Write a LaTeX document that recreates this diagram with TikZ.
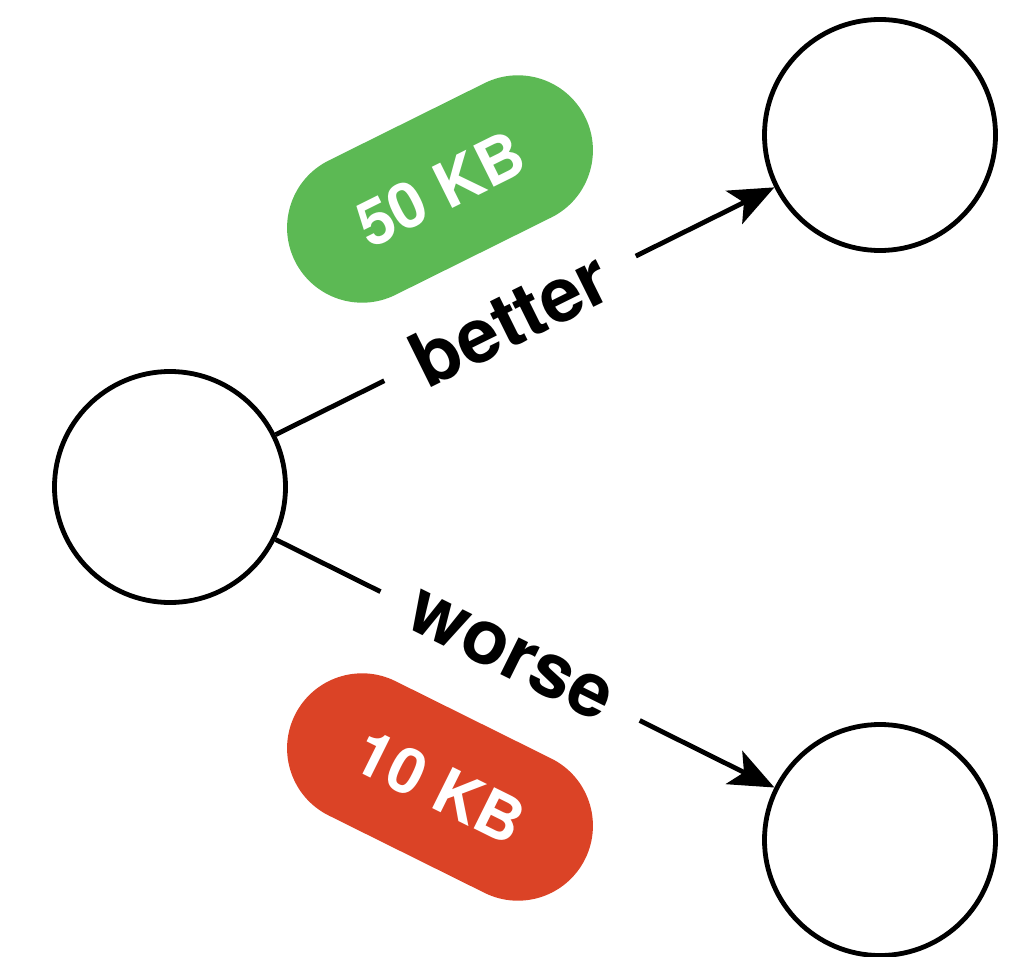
\documentclass[tikz,border=0pt]{standalone}
\usepackage{fontspec}
\setmainfont{TeX Gyre Heros}
\usetikzlibrary{arrows.meta}
\definecolor{goodgreen}{HTML}{5CB954}
\definecolor{badred}{HTML}{DB4326}
\begin{document}
\begin{tikzpicture}[x=1pt,y=1pt,
  state/.style={circle,draw,line width=4.8pt,minimum size=231pt,inner sep=0pt},
  link/.style={line width=4.8pt,-{Stealth[length=45pt,width=37pt,inset=11pt]}},
  edgelabel/.style={sloped,fill=white,inner xsep=35pt,inner ysep=2pt,
    font=\fontsize{76}{86}\selectfont\bfseries},
  pill/.style={fill=#1,rounded corners=75pt,minimum width=324pt,minimum height=150pt,
    inner sep=0pt,text=white,font=\fontsize{63}{72}\selectfont\bfseries}]
  \useasboundingbox (0,0) rectangle (1024,-957);

  % the three states
  \node[state] (src) at (170,-487) {};
  \node[state] (up) at (880,-135) {};
  \node[state] (down) at (880,-840) {};

  % transitions
  \draw[link] (src) -- node[edgelabel,pos=0.47] {better} (up);
  \draw[link] (src) -- node[edgelabel,pos=0.47] {worse} (down);

  % size badges
  \node[pill=goodgreen,rotate=26.4] (good) at (440,-189) {50 KB};
  \node[pill=badred,rotate=-26.4] (bad) at (440,-787) {10 KB};
\end{tikzpicture}
\end{document}
